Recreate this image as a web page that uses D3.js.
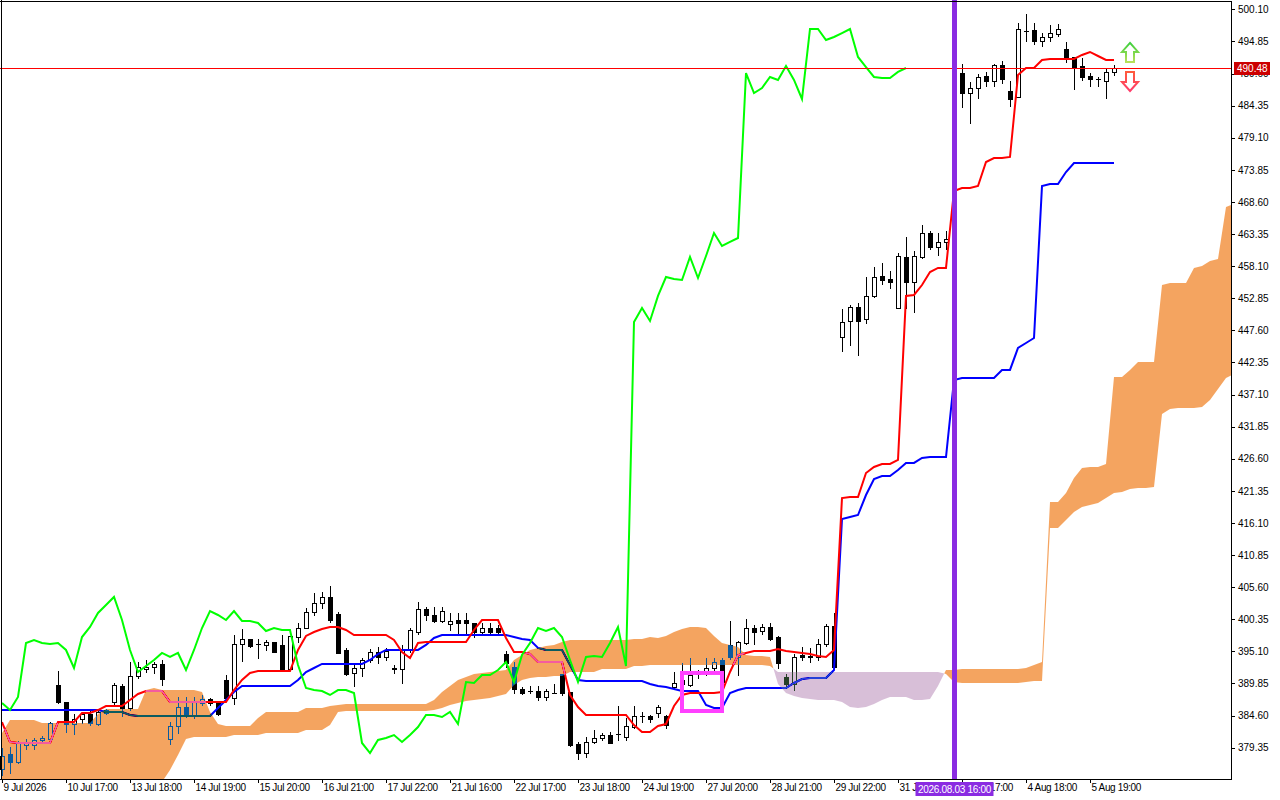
<!DOCTYPE html>
<html><head><meta charset="utf-8">
<script src="https://cdn.jsdelivr.net/npm/d3@7"></script>
<style>
html,body{margin:0;padding:0;background:#fff;}
svg{display:block;}
text{font-family:"Liberation Sans",Arial,sans-serif;}
</style></head><body>
<svg id="c" width="1280" height="800"></svg>
<script>
// ---------- DATA ----------
const timeLabels = ["9 Jul 2026","10 Jul 17:00","13 Jul 18:00","14 Jul 19:00","15 Jul 20:00","16 Jul 21:00","17 Jul 22:00","21 Jul 16:00","22 Jul 17:00","23 Jul 18:00","24 Jul 19:00","27 Jul 20:00","28 Jul 21:00","29 Jul 22:00","31 Jul 00:00","3 Aug 17:00","4 Aug 18:00","5 Aug 19:00"];
const timeLabelBars = [0,8,16,24,32,40,48,56,64,72,80,88,96,104,112,120,128,136];
const priceTicks = [500.10,494.85,489.60,484.35,479.10,473.85,468.60,463.35,458.10,452.85,447.60,442.35,437.10,431.85,426.60,421.35,416.10,410.85,405.60,400.35,395.10,389.85,384.60,379.35];

const open = [375.9,378.32,377.0,379.8,379.8,380.6,380.77,389.6,386.82,383.22,
384.04,384.86,383.22,385.51,386.82,389.44,385.84,391.07,392.22,392.55,
393.04,380.77,382.9,386.0,384.53,386.66,387.31,386.66,390.42,387.48,
396.31,397.13,396.31,396.15,396.64,396.15,392.22,397.45,398.92,401.54,
403.01,403.99,401.21,395.33,391.57,392.38,393.69,395.0,394.18,392.22,
392.22,395.33,398.27,402.03,401.05,400.07,399.58,400.23,400.23,399.74,
398.27,398.92,398.92,394.67,392.55,388.95,388.62,388.62,387.64,388.29,
391.4,388.46,379.95,378.48,380.28,380.93,381.42,381.59,381.1,382.73,
384.53,384.53,385.02,384.53,389.27,389.77,389.6,391.4,391.57,392.38,
393.69,396.15,394.18,396.47,398.92,398.43,399.09,397.45,390.91,389.77,
394.51,394.35,394.18,396.31,399.25,446.51,449.13,451.42,449.45,453.22,
456.49,455.99,451.25,459.59,455.5,459.59,463.52,461.23,462.05,462.54,
489.68,486.41,487.23,489.19,488.37,490.99,486.74,485.76,496.55,496.71,
494.92,495.57,496.06,493.61,492.3,490.83,489.19,488.7,488.37,489.85];
const high = [379.3,379.46,380.4,380.8,380.9,381.3,383.55,391.89,386.9,384.86,
385.2,385.68,385.68,385.7,389.93,389.8,393.36,393.36,393.7,393.36,
393.7,383.55,387.64,387.64,387.64,387.97,387.48,386.82,391.24,397.78,
398.76,397.13,397.13,396.96,396.7,397.78,397.62,399.74,402.19,404.65,
404.81,405.8,401.5,395.66,393.2,394.02,395.49,395.82,395.66,392.87,
396.15,398.92,403.18,402.36,402.36,402.36,401.38,401.38,401.38,399.74,
399.74,399.74,399.41,395.16,393.36,389.27,389.44,389.44,388.95,389.77,
391.4,388.46,380.28,381.1,382.24,381.75,381.92,386.17,384.2,386.17,
385.19,384.7,386.33,384.7,391.73,393.2,394.02,392.05,394.02,394.02,
394.02,400.07,396.8,400.4,399.41,399.58,399.74,397.62,391.4,394.67,
395.82,395.66,397.13,399.58,401.38,451.09,451.74,452.07,456.32,457.96,
458.61,457.31,460.25,462.86,460.57,464.83,463.84,463.52,463.84,490.5,
491.15,488.21,489.52,489.85,491.15,491.64,488.37,497.86,499.33,497.86,
496.22,497.53,497.7,494.75,492.3,492.1,489.68,489.03,490.5,490.99];
const low = [374.9,375.21,376.9,379.1,379.1,380.3,380.6,386.66,381.9,381.59,
383.4,383.06,383.06,384.9,386.5,384.53,385.5,390.75,391.73,391.57,
389.6,379.95,381.75,384.37,384.2,386.33,386.33,384.7,387.15,386.5,
393.53,395.82,394.02,395.33,395.0,392.05,392.05,396.64,398.92,401.05,
402.19,399.9,394.84,391.24,389.44,391.07,393.36,393.2,393.69,391.57,
389.93,395.0,397.94,400.23,399.9,399.9,398.6,397.78,397.78,397.45,
397.78,398.1,398.1,392.55,388.29,388.13,388.29,387.15,387.15,388.29,
387.97,379.62,377.5,377.83,380.12,380.61,380.12,380.61,380.61,382.57,
383.55,383.55,384.37,382.57,389.11,389.44,389.44,390.75,391.24,392.05,
389.93,393.85,391.24,396.31,396.31,397.94,396.96,392.38,389.27,388.78,
393.69,393.36,393.69,395.98,392.38,444.22,445.2,443.57,448.8,453.05,
455.18,454.53,451.25,451.25,450.6,459.43,460.9,459.92,460.9,461.9,
484.12,481.51,485.59,487.56,487.56,488.05,484.29,485.76,494.92,494.42,
494.1,494.92,495.73,491.48,487.07,488.54,487.56,487.56,485.59,489.36];
const close = [378.0,377.01,380.28,380.3,380.6,380.9,383.39,386.82,383.22,384.04,
384.86,383.39,385.19,385.02,389.6,385.84,391.07,392.55,392.55,393.04,
390.58,382.9,386.0,384.53,387.0,387.31,386.66,384.86,387.48,396.31,
397.13,395.98,396.35,396.64,395.0,392.05,397.62,398.92,401.54,403.01,
403.99,400.23,394.84,391.4,392.38,393.69,395.0,394.18,395.16,392.38,
395.33,398.6,402.03,401.05,400.07,401.7,400.07,399.74,399.74,398.27,
398.92,398.27,398.27,393.2,388.95,388.29,388.65,387.64,388.62,388.32,
388.29,379.79,378.48,380.28,380.93,381.42,380.12,381.62,382.9,384.53,
384.56,384.04,386.0,383.06,389.93,390.42,391.24,391.57,392.38,393.36,
390.09,394.18,396.64,398.92,398.27,399.09,397.13,393.2,389.77,394.18,
394.18,394.18,396.31,399.25,392.55,448.96,451.42,449.13,453.22,456.32,
455.83,455.5,459.76,455.5,459.76,463.52,461.23,462.05,462.54,489.68,
486.41,487.23,489.03,488.37,490.99,488.7,485.43,496.88,496.58,494.92,
495.57,496.22,496.88,492.3,490.5,489.03,488.7,488.65,489.85,490.48];

const tenkan = [383.55,380.28,380.12,380.12,380.12,380.12,380.12,383.55,383.55,383.55,
385.02,385.02,385.51,386.17,386.17,386.17,387.15,388.13,388.62,388.62,
388.62,386.82,386.82,386.82,386.82,386.82,386.82,386.82,386.82,388.78,
390.42,391.57,391.89,391.89,391.89,391.89,391.89,395.33,397.62,398.27,
398.76,399.09,399.09,398.60,397.78,397.78,397.78,397.78,397.78,396.96,
395.00,394.02,396.47,396.64,396.64,396.64,396.64,396.64,396.64,398.60,
400.23,400.23,400.23,397.29,395.00,395.00,394.67,393.36,393.36,393.36,
393.36,387.97,386.00,384.70,384.70,384.70,384.70,384.70,384.70,383.06,
381.92,381.92,382.90,383.22,386.17,387.97,388.29,388.29,388.29,388.29,
388.46,391.73,394.51,394.84,395.16,395.16,395.16,395.49,395.16,395.00,
394.84,394.67,394.35,394.18,395.33,420.18,420.35,420.35,424.27,425.25,
425.74,425.74,426.40,453.22,453.38,455.01,457.14,457.80,457.80,470.39,
470.88,470.88,471.20,475.13,475.78,475.78,475.95,489.36,490.50,490.50,
491.81,491.97,491.97,491.97,491.97,492.63,493.12,492.46,491.81,491.81];

const kijun = [385.51,385.51,385.51,385.51,385.51,385.51,385.51,385.51,385.51,385.51,
385.51,385.51,385.51,385.19,385.19,385.19,384.70,384.53,384.53,384.53,
384.53,384.53,384.53,384.53,384.53,384.53,384.53,385.84,387.15,388.46,
389.44,389.44,389.44,389.44,389.44,389.44,389.44,390.42,391.73,392.38,
393.04,393.04,393.04,393.04,393.04,393.04,393.69,394.67,395.33,395.33,
395.33,395.33,395.33,396.15,397.29,397.78,397.78,397.78,397.78,397.78,
397.78,397.78,397.78,397.78,397.45,397.13,396.96,395.66,395.33,395.33,
395.33,392.87,390.42,390.26,390.26,390.26,390.26,390.26,390.26,390.26,
390.26,389.77,389.44,389.27,388.95,388.62,388.62,388.62,386.33,385.84,
385.84,388.29,388.78,389.11,389.11,389.11,389.11,389.11,389.11,389.93,
390.58,390.75,390.75,390.75,392.05,416.75,417.08,417.40,420.67,423.29,
423.78,423.78,424.76,425.91,425.91,426.72,426.89,426.89,426.89,439.48,
439.81,439.81,439.81,439.81,439.81,441.12,441.12,444.71,445.53,446.35,
471.20,471.53,471.53,473.49,474.96,474.96,474.96,474.96,474.96,474.96];

const chikou = [386.66,385.51,387.64,396.47,396.96,396.47,396.31,396.47,395.33,392.38,
397.45,399.09,401.38,402.69,404.00,400.23,395.33,391.73,392.71,393.69,
394.84,394.18,394.84,392.05,395.33,398.92,401.70,401.05,400.23,401.70,
400.07,400.07,399.74,398.43,398.92,398.60,398.60,392.87,389.11,388.78,
388.62,387.97,388.78,388.78,388.29,380.12,378.48,380.61,380.93,381.42,
380.28,381.42,382.73,384.70,384.70,384.37,385.19,383.22,390.09,389.93,
391.24,391.24,392.05,393.36,390.09,394.51,396.47,398.92,398.43,398.92,
397.45,393.69,390.09,394.18,394.35,394.18,396.47,399.09,392.71,448.96,
451.25,449.13,453.22,456.32,455.99,455.83,459.59,456.16,459.76,463.52,
461.39,462.05,462.70,489.68,486.41,487.23,489.03,488.54,490.83,488.54,
485.43,496.88,496.88,495.08,495.57,496.22,496.88,492.30,490.66,489.03,
488.87,488.87,489.85,490.50];

const spanA = [381.75,383.88,383.88,383.88,383.88,383.39,383.39,383.39,383.39,383.39,
383.39,383.39,384.86,385.68,385.68,385.68,385.68,385.68,388.78,389.11,
388.78,388.78,388.78,388.78,388.78,388.46,385.19,383.22,382.90,382.90,
382.90,382.90,384.21,385.19,385.19,385.19,385.19,385.19,385.84,385.84,
385.84,386.17,386.33,386.49,386.49,386.49,386.49,386.49,386.49,386.49,
386.49,386.49,386.49,386.49,387.15,388.46,389.44,390.42,390.91,391.40,
391.57,391.73,391.89,392.05,393.69,394.51,395.33,395.66,395.98,396.15,
396.64,396.96,396.96,396.96,396.96,396.96,396.96,396.96,396.96,397.13,
397.13,397.45,397.29,397.62,398.27,398.76,399.09,399.09,398.92,397.62,
396.47,396.15,395.82,394.51,394.35,394.35,394.18,389.77,388.29,387.80,
387.48,387.31,387.15,387.15,387.15,386.82,386.00,385.84,386.00,386.49,
387.15,387.64,387.64,387.64,387.15,387.15,387.31,389.44,392.05,392.05,
392.22,392.22,392.22,392.22,392.22,392.22,392.22,392.22,392.38,392.87,
393.36,419.53,419.53,421.00,423.45,425.09,425.25,425.25,425.74,439.97,
439.97,441.12,442.42,442.42,442.42,455.01,455.34,455.34,455.34,457.80,
458.12,458.94,459.27,467.77,468.26];
const spanB = [367.53,367.53,367.53,367.53,367.53,367.53,367.53,367.53,367.53,367.53,
367.53,367.53,367.53,367.53,367.53,367.53,367.53,367.53,367.53,367.53,
373.74,375.70,378.16,380.77,381.10,381.10,381.10,381.10,381.10,381.42,
381.42,381.42,381.42,381.75,381.75,381.75,381.75,381.75,382.24,382.24,
382.24,383.06,385.19,385.35,385.35,385.35,385.35,385.35,385.35,385.35,
385.35,385.35,385.35,385.35,385.51,385.84,386.33,386.66,386.99,387.15,
387.31,387.48,387.80,388.13,389.60,390.42,390.75,390.91,390.91,391.07,
391.07,391.73,391.73,391.73,391.73,392.22,392.22,392.22,392.22,392.71,
392.71,392.87,392.87,392.87,392.87,392.87,392.87,392.87,392.87,392.87,
392.87,392.87,392.87,392.87,392.87,392.87,392.71,391.73,391.73,391.73,
391.73,391.73,391.73,391.73,391.73,391.73,391.73,391.73,391.73,391.73,
391.73,391.73,391.73,391.73,391.73,391.73,391.73,391.73,391.40,390.09,
389.93,389.93,389.93,389.93,389.93,389.93,389.93,389.93,390.09,390.26,
390.26,415.28,415.28,416.59,417.90,418.71,419.04,419.37,420.18,421.00,
421.16,421.65,421.82,421.82,421.98,433.92,434.74,434.90,434.90,434.90,
435.06,436.21,438.01,439.81,440.46];

const lastPrice = 490.48;
const markerBar = 119;
const markerText = "2026.08.03 16:00";
const boxBars = [85, 90];
const boxPrices = [385.35, 391.57];
const arrowBars = [141, 141];
const arrowPrices = [494.6, 486.74];
const arrowDirs = ["up", "down"];

// ---------- SCALES ----------
const PR = 1231, PB = 779;
const x = d3.scaleLinear().domain([0, 154]).range([2, 1234]);
const y = d3.scaleLinear().domain([374.23, 501.62]).range([PB, 0]);
const px = v => Math.round(x(v));
const py = v => Math.round(y(v));

const svg = d3.select("#c");
svg.append("rect").attr("width", 1280).attr("height", 800).attr("fill", "#fff");
const defs = svg.append("defs");
defs.append("clipPath").attr("id", "plot").append("rect").attr("x", 0).attr("y", 0).attr("width", PR).attr("height", PB);

const gUp = defs.append("linearGradient").attr("id", "gup").attr("x1", 0).attr("y1", 0).attr("x2", 0).attr("y2", 1);
gUp.append("stop").attr("offset", "0%").attr("stop-color", "#3ccf3c");
gUp.append("stop").attr("offset", "100%").attr("stop-color", "#b8e05a");
const gDn = defs.append("linearGradient").attr("id", "gdn").attr("x1", 0).attr("y1", 0).attr("x2", 0).attr("y2", 1);
gDn.append("stop").attr("offset", "0%").attr("stop-color", "#ff5a3c");
gDn.append("stop").attr("offset", "100%").attr("stop-color", "#ff3c6a");

const g = svg.append("g").attr("clip-path", "url(#plot)");
g.append("rect").attr("width", PR).attr("height", PB).attr("fill", "#fff");

// ---------- CANDLES ----------
const bars = d3.range(open.length).map(i => ({i, o: open[i], h: high[i], l: low[i], c: close[i]}));
const cg = g.append("g").attr("shape-rendering", "crispEdges");
cg.selectAll("line.w").data(bars).join("line").attr("class", "w")
  .attr("x1", d => px(d.i) + 0.5).attr("x2", d => px(d.i) + 0.5)
  .attr("y1", d => py(d.h)).attr("y2", d => py(d.l) + 1)
  .attr("stroke", "#000").attr("stroke-width", 1);
bars.forEach(d => {
  const top = py(Math.max(d.o, d.c)), bot = py(Math.min(d.o, d.c));
  const cx = px(d.i);
  if (bot - top < 1) {
    cg.append("line").attr("x1", cx - 2).attr("x2", cx + 3).attr("y1", top + 0.5).attr("y2", top + 0.5)
      .attr("stroke", "#000");
  } else {
    cg.append("rect").attr("x", cx - 1.5).attr("y", top + 0.5).attr("width", 4).attr("height", bot - top)
      .attr("fill", d.c >= d.o ? "#fff" : "#000").attr("stroke", "#000").attr("stroke-width", 1);
  }
});

// ---------- TENKAN / KIJUN ----------
const line = d3.line().x((v, i) => x(i)).y(v => y(v));
g.append("path").attr("d", line(kijun)).attr("fill", "none").attr("stroke", "#0000ff").attr("stroke-width", 2);
g.append("path").attr("d", line(tenkan)).attr("fill", "none").attr("stroke", "#ff0000").attr("stroke-width", 2);

// ---------- CLOUD (inverting fill, like the terminal's histogram) ----------
const pts = [];
for (let i = 0; i < spanA.length; i++) {
  pts.push({i, a: spanA[i], b: spanB[i]});
  if (i < spanA.length - 1) {
    const d0 = spanA[i] - spanB[i], d1 = spanA[i + 1] - spanB[i + 1];
    if (d0 * d1 < 0) {
      const t = d0 / (d0 - d1);
      const v = spanA[i] + t * (spanA[i + 1] - spanA[i]);
      pts.push({i: i + t, a: v, b: v});
    }
  }
}
const areaUp = d3.area().x(d => x(d.i)).y0(d => y(d.b)).y1(d => y(Math.max(d.a, d.b)));
const areaDn = d3.area().x(d => x(d.i)).y0(d => y(d.a)).y1(d => y(Math.max(d.a, d.b)));
g.append("path").attr("d", areaUp(pts)).attr("fill", "#0b5b9f").style("mix-blend-mode", "difference");
g.append("path").attr("d", areaDn(pts)).attr("fill", "#274027").style("mix-blend-mode", "difference");

// ---------- CHIKOU ----------
g.append("path").attr("d", line(chikou)).attr("fill", "none").attr("stroke", "#00ff00").attr("stroke-width", 2);

// ---------- OBJECTS ----------
g.append("line").attr("x1", 0).attr("x2", PR).attr("y1", py(lastPrice) + 0.5).attr("y2", py(lastPrice) + 0.5)
  .attr("stroke", "#ff0000").attr("stroke-width", 1).attr("shape-rendering", "crispEdges");
g.append("rect").attr("x", x(boxBars[0])).attr("y", y(boxPrices[1]))
  .attr("width", x(boxBars[1]) - x(boxBars[0])).attr("height", y(boxPrices[0]) - y(boxPrices[1]))
  .attr("fill", "none").attr("stroke", "#ff40ff").attr("stroke-width", 4);
g.append("rect").attr("x", px(markerBar) - 2).attr("y", 0).attr("width", 5).attr("height", PB)
  .attr("fill", "#8a2be2");

arrowBars.forEach((b, k) => {
  const tx = x(b), ty = y(arrowPrices[k]);
  const s = arrowDirs[k] === "up" ? 1 : -1;
  const p = [[0,0],[8,9],[4,9],[4,19],[-4,19],[-4,9],[-8,9]].map(([a, c]) => [tx + a, ty + s * c]);
  g.append("path").attr("d", "M" + p.map(q => q.join(",")).join("L") + "Z")
    .attr("fill", "#fff").attr("stroke", arrowDirs[k] === "up" ? "url(#gup)" : "url(#gdn)")
    .attr("stroke-width", 2).attr("stroke-linejoin", "miter");
});

// ---------- FRAME & AXES ----------
const fr = svg.append("g").attr("shape-rendering", "crispEdges").attr("stroke", "#000");
fr.append("line").attr("x1", 0).attr("x2", PR).attr("y1", 1.5).attr("y2", 1.5);
fr.append("line").attr("x1", 1.5).attr("x2", 1.5).attr("y1", 0).attr("y2", PB);
fr.append("line").attr("x1", 0).attr("x2", PR + 1).attr("y1", PB + 0.5).attr("y2", PB + 0.5);

const ya = svg.append("g").attr("transform", `translate(${PR},0)`)
  .call(d3.axisRight(y).tickValues(priceTicks).tickSize(4).tickSizeOuter(0).tickFormat(d3.format(".2f")));
ya.select(".domain").attr("stroke", "#000").attr("shape-rendering", "crispEdges");
ya.selectAll(".tick line").attr("stroke", "#000").attr("shape-rendering", "crispEdges");
ya.selectAll("text").attr("font-size", 10).attr("fill", "#000").attr("font-family", "Liberation Sans, Arial, sans-serif");

const xa = svg.append("g").attr("transform", `translate(0,${PB})`)
  .call(d3.axisBottom(x).tickValues(timeLabelBars).tickSize(4).tickSizeOuter(0).tickFormat((d, i) => timeLabels[i]));
xa.select(".domain").remove();
xa.selectAll(".tick line").attr("stroke", "#000").attr("shape-rendering", "crispEdges");
xa.selectAll("text").attr("font-size", 10).attr("fill", "#000").attr("text-anchor", "start")
  .attr("x", 1).attr("y", 5).attr("letter-spacing", "-0.35px").attr("font-family", "Liberation Sans, Arial, sans-serif");

// current price label
const lpY = py(lastPrice);
svg.append("rect").attr("x", 1234).attr("y", lpY - 6).attr("width", 36).attr("height", 13).attr("fill", "#cc0000");
svg.append("text").attr("x", 1237).attr("y", lpY + 4).attr("fill", "#fff").attr("font-size", 10).text(lastPrice.toFixed(2));

// vertical marker label
const mx = px(markerBar) + 0.5;
svg.append("rect").attr("x", mx - 39).attr("y", 782).attr("width", 78).attr("height", 14).attr("fill", "#8a2be2");
svg.append("text").attr("x", mx).attr("y", 793).attr("text-anchor", "middle").attr("fill", "#fff")
  .attr("font-size", 10).attr("letter-spacing", "-0.3px").text(markerText);
</script>
</body></html>
